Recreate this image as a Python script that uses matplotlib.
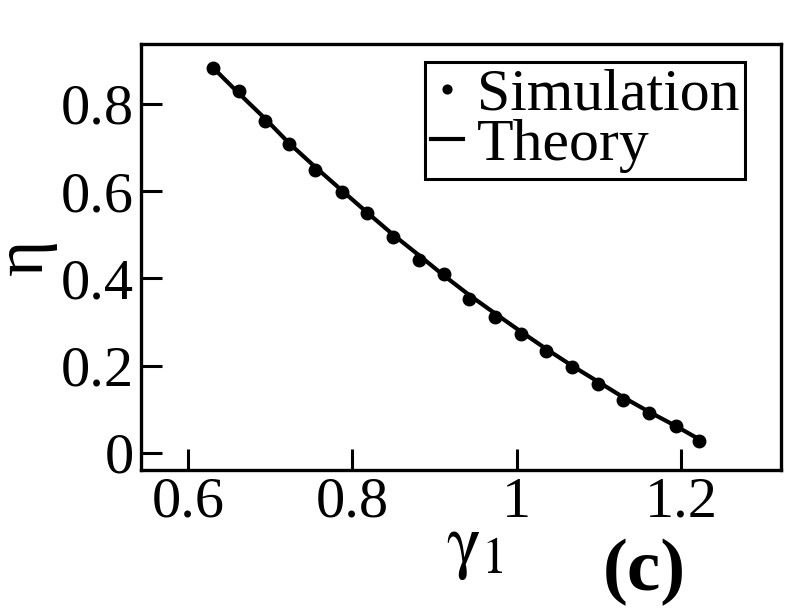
import numpy as np
import matplotlib
matplotlib.use('Agg')
import matplotlib.pyplot as plt

plt.rcParams.update({
    'font.family': ['Liberation Serif', 'DejaVu Serif'],
    'mathtext.fontset': 'stix',
    'axes.linewidth': 2.4,
    'xtick.direction': 'in',
    'ytick.direction': 'in',
    'xtick.major.size': 15,
    'ytick.major.size': 15,
    'xtick.major.width': 2.2,
    'ytick.major.width': 2.2,
})

# simulation points
gamma_sim = [0.630, 0.662, 0.694, 0.723, 0.755, 0.787, 0.818, 0.849, 0.881, 0.911,
             0.942, 0.974, 1.005, 1.036, 1.067, 1.099, 1.129, 1.161, 1.193, 1.222]
eta_sim = [0.883, 0.830, 0.760, 0.707, 0.649, 0.599, 0.550, 0.494, 0.443, 0.409,
           0.353, 0.312, 0.273, 0.233, 0.197, 0.157, 0.121, 0.091, 0.063, 0.028]

# theory curve read at the same abscissae
gamma_th = gamma_sim
eta_th = [0.884, 0.824, 0.766, 0.710, 0.655, 0.602, 0.551, 0.501, 0.453, 0.407,
          0.362, 0.319, 0.278, 0.238, 0.200, 0.163, 0.128, 0.094, 0.062, 0.031]

xticks = [0.6, 0.8, 1.0, 1.2]
xticklabels = ['0.6', '0.8', '1', '1.2']
yticks = [0, 0.2, 0.4, 0.6, 0.8]
yticklabels = ['0', '0.2', '0.4', '0.6', '0.8']

fig = plt.figure(figsize=(7.92, 6.12), dpi=100)
ax = fig.add_axes([0.178, 0.232, 0.808, 0.696])

ax.plot(gamma_th, eta_th, '-', color='black', linewidth=3, label='Theory', zorder=2)
ax.plot(gamma_sim, eta_sim, 'o', color='black', markersize=9, label='Simulation', zorder=3)

ax.set_xlim(0.543, 1.321)
ax.set_ylim(-0.039, 0.937)
ax.set_xticks(xticks)
ax.set_xticklabels(xticklabels)
ax.set_yticks(yticks)
ax.set_yticklabels(yticklabels)
ax.tick_params(labelsize=42, top=False, right=False, pad=5)

ax.set_xlabel(r'$\mathrm{\gamma}_1$', fontsize=52)
ax.xaxis.set_label_coords(0.522, -0.11, transform=ax.transAxes)
ax.xaxis.label.set_va('top')
ax.set_ylabel('η', fontsize=50, labelpad=3)

handles, labels = ax.get_legend_handles_labels()
leg = ax.legend(handles[::-1], labels[::-1], loc='upper right',
                bbox_to_anchor=(0.944, 0.958), fontsize=43,
                frameon=True, fancybox=False, framealpha=1,
                edgecolor='black', borderpad=0.1, labelspacing=-0.08,
                handlelength=0.55, handletextpad=0.22, borderaxespad=0,
                markerscale=0.7)
leg.get_frame().set_linewidth(2.2)

fig.text(0.813, 0.035, '(c)', fontsize=54, fontweight='bold', ha='center', va='baseline')

fig.savefig('out.png', dpi=100)
